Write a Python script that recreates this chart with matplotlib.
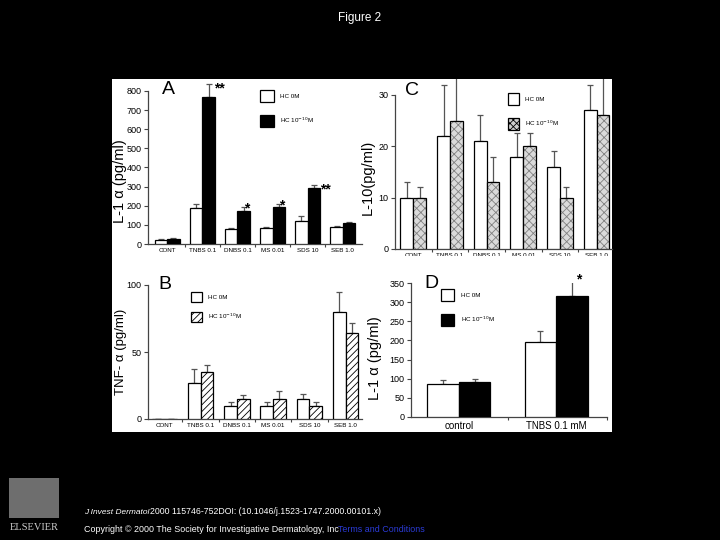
# Figure 2 - four bar panels on a white plate, black slide background
import numpy as np
import matplotlib
matplotlib.use('Agg')
import matplotlib.pyplot as plt
from matplotlib.patches import Rectangle

plt.rcParams['font.family'] = ['Liberation Sans', 'DejaVu Sans']
plt.rcParams['hatch.linewidth'] = 0.6

# ---- data ----
cats6 = ['CONT', 'TNBS 0.1', 'DNBS 0.1', 'MS 0.01', 'SDS 10', 'SEB 1.0']

a_0m = [22, 190, 80, 85, 122, 88]
a_0m_err = [3, 20, 6, 4, 23, 5]
a_hc = [28, 770, 175, 195, 295, 108]
a_hc_err = [3, 65, 20, 15, 15, 5]
a_stars = ['', '**', '*', '*', '**', '']

c_0m = [10, 22, 21, 18, 16, 27]
c_0m_err = [3, 10, 5, 4.5, 3, 5]
c_hc = [10, 25, 13, 20, 10, 26]
c_hc_err = [2, 9, 5, 2.5, 2, 8]

b_0m = [0, 27, 10, 10, 15, 80]
b_0m_err = [0, 10, 3, 3, 4, 15]
b_hc = [0, 35, 15, 15, 10, 64]
b_hc_err = [0, 5, 3, 6, 3, 8]

cats2 = ['control', 'TNBS 0.1 mM']
d_0m = [85, 195]
d_0m_err = [12, 30]
d_hc = [92, 315]
d_hc_err = [6, 40]
d_stars = ['', '*']

W, H = 720, 540
fig = plt.figure(figsize=(7.2, 5.4), dpi=100, facecolor='black')

def rect(x0, y0, x1, y1):
    # pixel box (top-left origin) -> figure fraction
    return [x0 / W, 1 - y1 / H, (x1 - x0) / W, (y1 - y0) / H]

# white plate
fig.patches.append(Rectangle((112 / W, 1 - 432 / H), 500 / W, 353 / H,
                             transform=fig.transFigure, facecolor='white',
                             edgecolor='none', zorder=-5))
# strip that hides the lower half of panel C's category labels (as in the scan)
fig.patches.append(Rectangle((380 / W, 1 - 266 / H), 232 / W, 10 / H,
                             transform=fig.transFigure, facecolor='white',
                             edgecolor='none', zorder=5))

fig.text(0.5, 1 - 18 / H, 'Figure 2', color='white', ha='center', va='center', fontsize=8.5)

axA = fig.add_axes(rect(148, 79, 362, 244))
axC = fig.add_axes(rect(395, 79, 612, 249))
axB = fig.add_axes(rect(148, 285, 362, 419))
axD = fig.add_axes(rect(411, 283, 607, 417))

spine_col = '#444444'
err_col = '#555555'

def style(ax, ymax_tick, ystep, ylim_top, xlim, bounds_top):
    ax.set_facecolor('none')
    for s in ['top', 'right']:
        ax.spines[s].set_visible(False)
    for s in ['left', 'bottom']:
        ax.spines[s].set_color(spine_col)
        ax.spines[s].set_linewidth(0.9)
    ax.set_ylim(0, ylim_top)
    ax.set_xlim(*xlim)
    ax.spines['left'].set_bounds(0, bounds_top)
    ax.set_yticks(np.arange(0, ymax_tick + 1, ystep))
    ax.tick_params(axis='y', labelsize=6.5, length=3, width=0.8, color=spine_col, pad=1.5)
    ax.tick_params(axis='x', which='major', length=0, labelsize=4.5, pad=3)
    ax.tick_params(axis='x', which='minor', length=2.5, width=0.8, color=spine_col)

def pair(ax, x, v0, e0, v1, e1, w, fill1, hatch1, hcol):
    ax.bar(x - w / 2, v0, w, color='white', edgecolor='black', linewidth=0.9, zorder=3)
    if hatch1:
        # hatch drawn in its own colour, outline added on top
        ax.bar(x + w / 2, v1, w, color=fill1, edgecolor=hcol, hatch=hatch1, linewidth=0, zorder=3)
        ax.bar(x + w / 2, v1, w, color='none', edgecolor='black', linewidth=0.9, zorder=4)
    else:
        ax.bar(x + w / 2, v1, w, color=fill1, edgecolor='black', linewidth=0.9, zorder=3)
    ax.errorbar(x - w / 2, v0, yerr=[np.zeros(len(x)), e0], fmt='none', ecolor=err_col,
                elinewidth=0.9, capsize=2, capthick=0.9, zorder=2)
    ax.errorbar(x + w / 2, v1, yerr=[np.zeros(len(x)), e1], fmt='none', ecolor=err_col,
                elinewidth=0.9, capsize=2, capthick=0.9, zorder=2)

# ---- A ----
x6 = np.arange(6)
w = 0.35
pair(axA, x6, a_0m, a_0m_err, a_hc, a_hc_err, w, 'black', None, None)
style(axA, 800, 100, 862, (-0.55, 5.55), 800)
axA.set_xticks(x6, cats6)
axA.set_xticks(x6[:-1] + 0.5, minor=True)
for i, s in enumerate(a_stars):
    if s == '**':
        axA.text(x6[i] + w / 2 + 0.17, a_hc[i] + a_hc_err[i] - 25, s, fontsize=10,
                 ha='left', va='center', fontweight='bold')
    elif s:
        axA.text(x6[i] + w / 2 + 0.1, a_hc[i] + a_hc_err[i] - 10, s, fontsize=10,
                 ha='center', va='center', fontweight='bold')
axA.set_ylabel('L-1 α (pg/ml)', fontsize=10.5)
axA.yaxis.set_label_coords(-0.1, 0.38)
axA.text(0.065, 0.985, 'A', transform=axA.transAxes, fontsize=14, va='top')

# ---- C ----
pair(axC, x6, c_0m, c_0m_err, c_hc, c_hc_err, w, '#dadada', 'xxxx', '#808080')
style(axC, 30, 10, 33.1, (-0.5, 5.42), 30)
axC.set_xticks(x6, cats6)
axC.set_xticks(x6[:-1] + 0.5, minor=True)
axC.set_ylabel('L-10(pg/ml)', fontsize=10.5)
axC.yaxis.set_label_coords(-0.092, 0.42)
axC.text(0.046, 0.985, 'C', transform=axC.transAxes, fontsize=14, va='top')

# ---- B ----
pair(axB, x6, b_0m, b_0m_err, b_hc, b_hc_err, w, 'white', '/////', 'black')
style(axB, 100, 50, 100, (-0.45, 5.45), 100)
axB.set_xticks(x6, cats6)
axB.set_xticks(x6[:-1] + 0.5, minor=True)
axB.set_ylabel('TNF- α (pg/ml)', fontsize=9.5)
axB.yaxis.set_label_coords(-0.1, 0.5)
axB.text(0.05, 1.07, 'B', transform=axB.transAxes, fontsize=14, va='top')

# ---- D ----
x2 = np.arange(2)
wd = 0.325
pair(axD, x2, d_0m, d_0m_err, d_hc, d_hc_err, wd, 'black', None, None)
style(axD, 350, 50, 350, (-0.49, 1.52), 350)
axD.set_xticks(x2, cats2)
axD.set_xticks([0.5, 1.52], minor=True)
axD.tick_params(axis='x', which='major', labelsize=7, pad=3)
for i, s in enumerate(d_stars):
    if s:
        axD.text(x2[i] + wd / 2 + 0.07, d_hc[i] + d_hc_err[i] + 3, s, fontsize=10,
                 ha='center', va='center', fontweight='bold', clip_on=False)
axD.set_ylabel('L-1 α (pg/ml)', fontsize=10.5)
axD.yaxis.set_label_coords(-0.148, 0.44)
axD.text(0.07, 1.06, 'D', transform=axD.transAxes, fontsize=14, va='top')

# ---- legends (proxy patches) ----
def legend(ax, lab_hc, fill1, hatch1, loc, hh=2.6, sp=2.0, hl=2.2):
    h0 = Rectangle((0, 0), 1, 1, facecolor='white', edgecolor='black', linewidth=0.9)
    h1 = Rectangle((0, 0), 1, 1, facecolor=fill1, edgecolor='black', hatch=hatch1, linewidth=0.9)
    ax.legend([h0, h1], ['HC 0M', lab_hc], loc='upper left', bbox_to_anchor=loc,
              frameon=False, fontsize=4.5, handlelength=hl, handleheight=hh,
              labelspacing=sp, handletextpad=1.0, borderpad=0)

lab = 'HC 10$^{-10}$M'
legend(axA, lab, 'black', None, (0.511, 0.952))
legend(axC, lab, '#cfcfcf', 'xxxxx', (0.506, 0.935), hl=1.8)
legend(axB, lab, 'white', '/////', (0.186, 0.97), hh=2.0, sp=1.6, hl=1.7)
legend(axD, lab, 'black', None, (0.135, 0.978))

# ---- footer ----
fig.text(84 / W, 1 - 512 / H, 'J Invest Dermatol', color='white', fontsize=6.0,
         va='center', style='italic')
fig.text(150 / W, 1 - 512 / H, '2000 115746-752DOI: (10.1046/j.1523-1747.2000.00101.x)',
         color='white', fontsize=6.3, va='center')
fig.text(84 / W, 1 - 530 / H, 'Copyright © 2000 The Society for Investigative Dermatology, Inc',
         color='white', fontsize=6.4, va='center')
fig.text(338 / W, 1 - 530 / H, 'Terms and Conditions', color='#2b3bd6', fontsize=6.4,
         va='center')
fig.patches.append(Rectangle((9 / W, 1 - 518 / H), 50 / W, 40 / H, transform=fig.transFigure,
                             facecolor='#8a8a8a', edgecolor='none', alpha=0.8))
fig.text(34 / W, 1 - 527 / H, 'ELSEVIER', color='#cccccc', fontsize=7.5, ha='center',
         va='center', family=['Liberation Serif', 'DejaVu Serif'])

fig.savefig('out.png', dpi=100, facecolor='black')
